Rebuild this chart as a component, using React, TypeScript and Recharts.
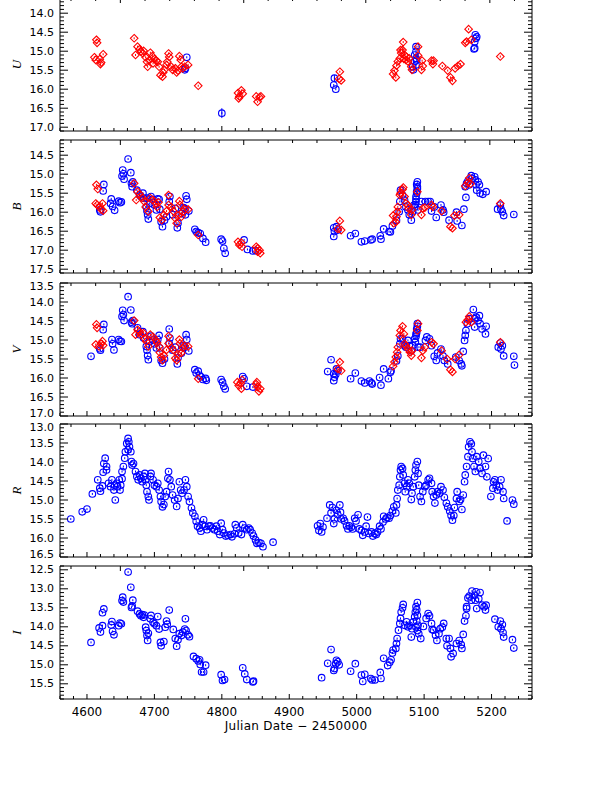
import React from 'react';
import { ScatterChart, Scatter, XAxis, YAxis, ErrorBar } from 'recharts';

// ─── Data (JD − 2450000, magnitude) ───────────────────────────────────────────

type Pt = [number, number];

const uRed: Pt[] = [
  [4614, 14.7], [4615, 14.78], [4611, 15.16], [4613, 15.23], [4619, 15.21], [4621, 15.3], [4620, 15.34], [4624, 15.08],
  [4670, 14.66], [4672, 15.1], [4675, 14.88], [4678, 14.95], [4680, 15.01], [4683, 15.06], [4684, 14.99], [4687, 15.16],
  [4689, 15.28], [4690, 15.41], [4693, 15.23], [4694, 15.04], [4697, 15.13], [4698, 15.32], [4700, 15.21], [4703, 15.25],
  [4705, 15.28], [4707, 15.41], [4709, 15.63], [4712, 15.67], [4713, 15.56], [4715, 15.49], [4718, 15.36], [4719, 15.28],
  [4721, 15.06], [4722, 15.15], [4725, 15.41], [4727, 15.49], [4731, 15.45], [4733, 15.56], [4735, 15.51], [4737, 15.13],
  [4739, 15.23], [4740, 15.41], [4742, 15.45], [4745, 15.41], [4750, 15.36], [4765, 15.91],
  [4824, 16.1], [4826, 16.19], [4829, 16.03], [4831, 16.12], [4825, 16.24], [4851, 16.19], [4853, 16.33], [4856, 16.21], [4858, 16.19],
  [4975, 15.54], [4974, 15.73], [4977, 15.77],
  [5054, 15.6], [5058, 15.69], [5056, 15.51], [5059, 15.38], [5061, 15.27], [5064, 15.19], [5065, 14.97], [5066, 15.05],
  [5068, 14.97], [5069, 14.76], [5070, 15.2], [5071, 15.1], [5073, 15.23], [5074, 15.15], [5076, 15.27], [5078, 15.19],
  [5081, 15.41], [5082, 15.49], [5091, 14.88], [5091, 15.11], [5097, 15.25], [5096, 15.49], [5098, 15.39], [5111, 15.25],
  [5113, 15.34], [5114, 15.25], [5127, 15.39], [5135, 15.51], [5139, 15.69], [5142, 15.78], [5146, 15.45], [5150, 15.39],
  [5154, 15.34], [5161, 14.78], [5163, 14.75], [5166, 14.42], [5170, 14.7], [5213, 15.14],
];

const uBlue: Pt[] = [
  [4748, 15.16], [4745, 15.49], [4746, 15.45], [4966, 15.89], [4969, 16.0],
  [5088, 14.88], [5088, 15.01], [5086, 15.1], [5088, 15.19], [5086, 15.27], [5088, 15.36], [5084, 15.49], [5083, 15.41],
  [5089, 15.23], [5176, 14.57], [5177, 14.66], [5178, 14.62], [5175, 14.75], [5174, 14.94], [5175, 14.92],
];

// points drawn with a visible error bar: [jd, mag, err]
const uBlueErr: [number, number, number][] = [
  [4800, 16.63, 0.13],
  [4967, 15.71, 0.08],
];

const bBlue: Pt[] = [
  [4625, 15.27], [4624, 15.44], [4619, 15.94], [4620, 15.99], [4636, 15.65], [4635, 15.77], [4638, 15.85], [4641, 15.95],
  [4647, 15.71], [4649, 15.75], [4651, 15.73], [4652, 15.05], [4653, 14.89], [4654, 14.99], [4655, 15.13], [4661, 14.6],
  [4665, 14.96], [4666, 15.24], [4667, 15.33], [4668, 15.2], [4674, 15.42], [4678, 15.55], [4680, 15.59], [4683, 15.5],
  [4684, 15.63], [4688, 15.86], [4689, 15.97], [4690, 16.07], [4691, 16.18], [4689, 15.63], [4693, 15.77], [4695, 15.59],
  [4697, 15.66], [4700, 15.81], [4703, 15.94], [4705, 15.65], [4708, 15.92], [4707, 15.66], [4710, 16.25], [4712, 16.38],
  [4715, 16.21], [4718, 16.12], [4722, 15.72], [4723, 15.59], [4727, 16.07], [4731, 15.9], [4734, 16.41], [4735, 16.29],
  [4740, 16.03], [4743, 15.88], [4745, 15.9], [4747, 15.57], [4748, 15.66], [4751, 15.97], [4746, 16.07],
  [4760, 16.45], [4762, 16.51], [4765, 16.54], [4768, 16.56], [4772, 16.69], [4776, 16.79],
  [4799, 16.71], [4801, 16.76], [4803, 16.95], [4805, 17.08], [4833, 16.73], [4838, 16.98], [4846, 17.02], [4850, 17.01],
  [4966, 16.41], [4967, 16.51], [4966, 16.64], [4970, 16.38], [4972, 16.47], [4991, 16.62], [4998, 16.56], [5007, 16.78],
  [5012, 16.76], [5021, 16.73], [5023, 16.71], [5035, 16.62], [5036, 16.71], [5040, 16.44], [5048, 16.51], [5050, 16.52],
  [5053, 16.36], [5059, 16.21], [5063, 15.99], [5064, 15.72], [5065, 15.42], [5068, 15.55], [5071, 15.68], [5073, 15.86],
  [5076, 15.94], [5078, 16.07], [5081, 16.21], [5083, 15.99], [5086, 15.86], [5088, 15.72], [5088, 15.59], [5089, 15.46],
  [5090, 15.33], [5090, 15.2], [5089, 15.27], [5090, 15.38], [5089, 15.5], [5088, 15.66], [5087, 15.8], [5091, 15.94],
  [5085, 15.81], [5096, 15.72], [5102, 15.72], [5106, 15.72], [5109, 15.72], [5111, 15.97], [5115, 15.86], [5118, 16.14],
  [5125, 15.81], [5128, 15.94], [5129, 16.0], [5137, 16.21], [5148, 16.0], [5149, 16.23], [5156, 16.35], [5159, 15.92],
  [5162, 15.61], [5161, 15.33], [5163, 15.24], [5165, 15.18], [5167, 15.28], [5170, 15.04], [5171, 15.11], [5175, 15.07],
  [5176, 15.15], [5177, 15.28], [5180, 15.2], [5178, 15.42], [5182, 15.28], [5183, 15.5], [5187, 15.53], [5192, 15.46],
  [5209, 15.92], [5213, 15.81], [5214, 15.92], [5216, 15.99], [5218, 16.09], [5233, 16.06],
];

const bRed: Pt[] = [
  [4614, 15.28], [4616, 15.39], [4613, 15.77], [4615, 15.81], [4619, 15.84], [4621, 15.93], [4623, 15.77], [4624, 15.96],
  [4670, 15.24], [4673, 15.68], [4675, 15.46], [4678, 15.52], [4682, 15.62], [4685, 15.72], [4687, 15.86], [4691, 15.98],
  [4694, 15.63], [4698, 15.68], [4702, 15.77], [4704, 15.86], [4706, 15.74], [4708, 16.14], [4711, 16.21], [4714, 16.07],
  [4718, 15.97], [4721, 15.81], [4721, 15.55], [4725, 15.86], [4728, 15.97], [4731, 16.16], [4733, 16.29], [4735, 16.09],
  [4737, 15.71], [4738, 15.81], [4740, 16.12], [4742, 15.99], [4745, 15.93], [4750, 15.93], [4765, 16.6],
  [4824, 16.78], [4826, 16.86], [4829, 16.8], [4830, 16.91], [4851, 16.91], [4853, 17.04], [4856, 17.0], [4857, 17.08], [4853, 16.95],
  [4975, 16.23], [4972, 16.44], [4977, 16.47],
  [5054, 16.09], [5055, 16.29], [5058, 16.26], [5059, 16.12], [5060, 15.99], [5061, 15.86], [5064, 15.55], [5065, 15.5],
  [5068, 15.4], [5069, 15.35], [5071, 15.59], [5073, 15.77], [5076, 15.81], [5077, 15.9], [5081, 16.07], [5082, 15.94],
  [5090, 15.46], [5096, 16.07], [5098, 15.9], [5101, 15.88], [5111, 15.81], [5113, 15.86], [5126, 15.97], [5139, 16.38],
  [5142, 16.42], [5145, 16.09], [5152, 16.07], [5161, 15.31], [5165, 15.22], [5167, 15.1], [5169, 15.25], [5213, 15.77],
];

const vBlue: Pt[] = [
  [4606, 15.43], [4624, 14.73], [4625, 14.59], [4619, 15.23], [4620, 15.27], [4637, 14.99], [4638, 15.1], [4640, 15.26],
  [4647, 14.99], [4649, 15.03], [4651, 15.04], [4661, 13.86], [4652, 14.38], [4653, 14.22], [4654, 14.33], [4655, 14.49],
  [4665, 14.21], [4666, 14.53], [4667, 14.57], [4668, 14.49], [4675, 14.68], [4678, 14.86], [4683, 14.78], [4684, 14.95],
  [4688, 15.17], [4689, 15.27], [4690, 15.41], [4691, 15.52], [4693, 15.04], [4695, 14.9], [4698, 15.0], [4700, 15.1],
  [4703, 15.21], [4705, 14.99], [4707, 14.88], [4708, 15.21], [4710, 15.54], [4712, 15.61], [4715, 15.5], [4722, 15.09],
  [4723, 14.95], [4722, 14.71], [4727, 15.27], [4731, 15.19], [4734, 15.63], [4735, 15.47], [4740, 15.35], [4743, 15.15],
  [4745, 15.19], [4747, 14.86], [4748, 14.99], [4751, 15.29], [4760, 15.78], [4762, 15.87], [4765, 15.82], [4767, 15.93],
  [4769, 15.97], [4772, 16.04], [4776, 16.01], [4777, 16.06], [4799, 16.04], [4801, 16.11], [4803, 16.22], [4805, 16.29],
  [4831, 15.96], [4833, 16.02], [4837, 16.22], [4846, 16.24],
  [4962, 15.52], [4957, 15.83], [4966, 15.89], [4967, 15.98], [4966, 16.07], [4970, 15.76], [4972, 15.81], [4969, 15.9],
  [4991, 16.02], [4998, 15.87], [5007, 16.08], [5012, 16.13], [5019, 16.08], [5022, 16.13], [5023, 16.16], [5034, 15.99],
  [5036, 16.19], [5040, 15.76], [5047, 16.02], [5050, 15.85], [5051, 15.81], [5059, 15.55], [5061, 15.42], [5064, 15.1],
  [5065, 14.97], [5068, 14.97], [5071, 15.15], [5073, 15.19], [5076, 15.01], [5078, 15.15], [5081, 15.28], [5083, 15.15],
  [5086, 14.97], [5088, 14.84], [5089, 14.71], [5090, 14.57], [5090, 14.64], [5089, 14.8], [5088, 14.9], [5087, 15.05],
  [5091, 15.19], [5094, 15.19], [5102, 15.01], [5104, 14.92], [5108, 14.97], [5111, 15.15], [5115, 15.43], [5118, 15.54],
  [5120, 15.34], [5125, 15.24], [5128, 15.42], [5130, 15.54], [5135, 15.63], [5147, 15.45], [5152, 15.54], [5155, 15.63],
  [5156, 15.68], [5158, 15.3], [5160, 15.01], [5161, 14.88], [5162, 14.75], [5164, 14.57], [5167, 14.44], [5173, 14.2],
  [5175, 14.44], [5177, 14.4], [5180, 14.49], [5182, 14.36], [5175, 14.66], [5183, 14.57], [5186, 14.71], [5192, 14.64],
  [5191, 14.84], [5210, 15.19], [5213, 15.08], [5214, 15.24], [5216, 15.15], [5218, 15.42], [5233, 15.43], [5234, 15.66],
];

const vRed: Pt[] = [
  [4614, 14.59], [4615, 14.68], [4613, 15.12], [4618, 15.17], [4621, 15.1], [4623, 15.03], [4624, 15.14],
  [4670, 14.49], [4672, 14.86], [4675, 14.73], [4678, 14.78], [4680, 14.86], [4684, 14.82], [4686, 14.97], [4688, 15.04],
  [4691, 15.17], [4694, 14.86], [4698, 14.92], [4702, 15.0], [4704, 15.07], [4707, 15.17], [4708, 15.33], [4710, 15.45],
  [4712, 15.53], [4714, 15.41], [4718, 15.26], [4721, 15.09], [4721, 14.9], [4725, 15.2], [4728, 15.26], [4731, 15.48],
  [4733, 15.53], [4735, 15.38], [4737, 14.99], [4738, 15.09], [4740, 15.34], [4742, 15.21], [4745, 15.15], [4750, 15.17],
  [4765, 16.02], [4823, 16.11], [4825, 16.2], [4828, 16.14], [4829, 16.28], [4830, 16.05], [4851, 16.16], [4853, 16.24],
  [4855, 16.35], [4857, 16.28], [4852, 16.11],
  [4975, 15.58], [4972, 15.76], [4977, 15.81],
  [5054, 15.69], [5056, 15.58], [5058, 15.45], [5060, 15.32], [5061, 15.19], [5064, 14.88], [5065, 14.75], [5068, 14.64],
  [5070, 14.84], [5071, 15.1], [5073, 15.15], [5076, 15.24], [5079, 15.32], [5081, 15.41], [5082, 15.28], [5090, 14.75],
  [5091, 14.57], [5096, 15.47], [5098, 15.28], [5101, 15.19], [5111, 15.06], [5114, 15.1], [5126, 15.28], [5134, 15.5],
  [5139, 15.78], [5142, 15.84], [5146, 15.5], [5152, 15.39], [5162, 14.53], [5165, 14.47], [5167, 14.38], [5170, 14.53],
  [5213, 15.06],
];

const rBlue: Pt[] = [
  [4576, 15.5], [4593, 15.31], [4600, 15.24], [4608, 14.84], [4616, 14.47], [4619, 14.69], [4620, 14.77], [4623, 14.63],
  [4624, 14.27], [4625, 14.04], [4627, 13.9], [4629, 14.12], [4629, 14.21], [4632, 14.56], [4635, 14.65], [4637, 14.47],
  [4640, 14.74], [4642, 15.0], [4641, 14.61], [4644, 14.56], [4645, 14.65], [4648, 14.47], [4650, 14.61], [4652, 14.44],
  [4649, 14.74], [4652, 14.25], [4654, 14.12], [4656, 13.9], [4657, 13.73], [4659, 13.51], [4661, 13.38], [4662, 13.47],
  [4663, 13.6], [4665, 13.73], [4661, 13.68], [4666, 13.99], [4667, 14.08], [4669, 14.04], [4672, 14.25], [4674, 14.38],
  [4676, 14.47], [4678, 14.34], [4680, 14.43], [4682, 14.52], [4684, 14.38], [4686, 14.3], [4687, 14.47], [4688, 14.61],
  [4689, 14.78], [4691, 14.91], [4692, 15.0], [4694, 14.38], [4695, 14.3], [4698, 14.47], [4700, 14.61], [4703, 14.65],
  [4705, 14.56], [4707, 14.74], [4709, 14.91], [4710, 15.04], [4712, 15.18], [4714, 15.12], [4716, 14.91], [4718, 14.78],
  [4720, 14.43], [4721, 14.25], [4723, 14.47], [4725, 14.65], [4727, 14.87], [4730, 15.0], [4733, 15.17], [4735, 14.96],
  [4737, 14.52], [4739, 14.74], [4741, 14.82], [4744, 14.74], [4746, 14.47], [4748, 14.65], [4750, 14.91], [4752, 15.04],
  [4755, 15.21], [4757, 15.34], [4760, 15.43], [4762, 15.56], [4764, 15.69], [4767, 15.74], [4769, 15.82], [4771, 15.65],
  [4773, 15.52], [4775, 15.69], [4778, 15.78], [4781, 15.69], [4783, 15.68], [4786, 15.74], [4789, 15.78], [4792, 15.69],
  [4794, 15.82], [4797, 15.91], [4799, 15.61], [4801, 15.78], [4803, 15.87], [4806, 15.95], [4809, 15.93], [4813, 15.91],
  [4815, 15.97], [4819, 15.89], [4820, 15.65], [4822, 15.74], [4825, 15.87], [4829, 15.91], [4831, 15.65], [4834, 15.74],
  [4837, 15.78], [4840, 15.74], [4842, 15.78], [4845, 15.87], [4847, 15.95], [4850, 16.05], [4852, 16.14], [4855, 16.12],
  [4858, 16.14], [4861, 16.23], [4876, 16.11],
  [4942, 15.68], [4944, 15.8], [4946, 15.62], [4948, 15.84], [4950, 15.71], [4956, 15.48], [4960, 15.13], [4962, 15.34],
  [4964, 15.2], [4966, 15.62], [4967, 15.5], [4970, 15.27], [4972, 15.39], [4975, 15.13], [4976, 15.32], [4977, 15.5],
  [4980, 15.48], [4982, 15.55], [4985, 15.68], [4987, 15.76], [4989, 15.68], [4992, 15.72], [4994, 15.76], [4997, 15.48],
  [4999, 15.55], [5002, 15.39], [5004, 15.76], [5007, 15.8], [5009, 15.93], [5012, 15.84], [5014, 15.69], [5016, 15.45],
  [5018, 15.88], [5022, 15.84], [5024, 15.95], [5027, 15.88], [5029, 15.91], [5031, 15.84], [5034, 15.69], [5036, 15.76],
  [5039, 15.58], [5040, 15.43], [5043, 15.5], [5045, 15.46], [5048, 15.48], [5050, 15.41], [5053, 15.29], [5055, 15.18],
  [5058, 15.34], [5059, 15.13], [5060, 14.96], [5061, 14.74], [5063, 14.61], [5064, 14.39], [5065, 14.21], [5066, 14.12],
  [5068, 14.17], [5069, 14.34], [5071, 14.56], [5072, 14.78], [5074, 14.65], [5076, 14.47], [5078, 14.56], [5081, 14.99],
  [5082, 14.82], [5084, 14.65], [5086, 14.39], [5087, 14.21], [5088, 14.08], [5090, 13.99], [5091, 14.3], [5092, 14.61],
  [5094, 14.91], [5096, 15.04], [5098, 14.78], [5101, 14.65], [5103, 14.61], [5106, 14.47], [5108, 14.43], [5111, 14.56],
  [5112, 14.78], [5114, 14.91], [5116, 15.08], [5118, 14.87], [5120, 14.78], [5123, 14.82], [5125, 14.65], [5128, 14.74],
  [5130, 14.93], [5133, 15.08], [5135, 15.18], [5138, 15.29], [5140, 15.41], [5142, 15.53], [5144, 15.41], [5145, 15.2],
  [5148, 14.96], [5149, 14.78], [5152, 15.04], [5154, 14.99], [5156, 15.25], [5158, 14.87], [5160, 14.52], [5161, 14.34],
  [5163, 14.12], [5165, 13.86], [5166, 13.6], [5168, 13.47], [5170, 13.52], [5171, 13.73], [5172, 13.91], [5174, 14.12],
  [5176, 14.25], [5178, 13.86], [5181, 13.99], [5183, 14.17], [5186, 14.3], [5188, 13.82], [5191, 14.12], [5193, 14.39],
  [5195, 13.91], [5199, 14.91], [5202, 14.69], [5203, 14.52], [5205, 14.47], [5207, 14.61], [5209, 14.74], [5212, 14.65],
  [5214, 14.47], [5217, 14.78], [5218, 14.96], [5223, 15.55], [5231, 15.0], [5233, 15.11],
];

const iBlue: Pt[] = [
  [4606, 14.41], [4618, 14.03], [4620, 14.14], [4623, 13.63], [4625, 13.53], [4623, 13.97], [4636, 13.95], [4637, 13.86],
  [4638, 14.12], [4640, 14.21], [4647, 13.97], [4649, 13.9], [4651, 13.92], [4652, 13.31], [4653, 13.22], [4654, 13.35],
  [4661, 12.56], [4665, 12.96], [4666, 13.49], [4667, 13.45], [4668, 13.3], [4675, 13.59], [4678, 13.66], [4680, 13.71],
  [4682, 13.68], [4684, 13.75], [4685, 13.69], [4687, 14.01], [4688, 14.1], [4689, 14.23], [4690, 14.36], [4691, 14.17],
  [4694, 13.79], [4695, 13.7], [4698, 13.88], [4700, 13.92], [4703, 13.97], [4705, 13.73], [4707, 14.06], [4709, 14.41],
  [4710, 14.5], [4714, 14.39], [4716, 14.01], [4718, 13.85], [4719, 13.93], [4722, 13.56], [4728, 14.07], [4731, 14.31],
  [4733, 14.51], [4735, 14.34], [4737, 14.18], [4740, 14.23], [4742, 14.14], [4745, 14.06], [4746, 13.79], [4747, 14.1],
  [4750, 14.21], [4752, 14.26], [4758, 14.78], [4762, 14.84], [4765, 14.9], [4767, 14.87], [4768, 14.99], [4770, 15.19],
  [4773, 15.19], [4776, 15.01], [4799, 15.26], [4801, 15.41], [4804, 15.39], [4831, 15.08], [4834, 15.24], [4837, 15.39],
  [4846, 15.45], [4847, 15.43],
  [4948, 15.34], [4957, 14.96], [4962, 14.6], [4966, 15.15], [4967, 15.1], [4969, 14.97], [4970, 14.88], [4972, 14.92],
  [4974, 15.0], [4991, 15.17], [4998, 14.97], [5007, 15.27], [5009, 15.44], [5012, 15.25], [5021, 15.36], [5023, 15.4],
  [5027, 15.4], [5035, 15.2], [5036, 15.36], [5040, 14.83], [5046, 15.02], [5049, 14.93], [5051, 14.87], [5053, 14.69],
  [5054, 14.61], [5058, 14.57], [5059, 14.44], [5060, 14.31], [5062, 14.09], [5064, 13.91], [5065, 13.78], [5066, 13.61],
  [5068, 13.5], [5069, 13.41], [5071, 13.96], [5074, 13.87], [5076, 14.0], [5078, 13.96], [5081, 14.27], [5082, 14.05],
  [5084, 13.87], [5086, 13.74], [5087, 13.61], [5088, 13.47], [5090, 13.36], [5091, 13.96], [5092, 14.18], [5095, 14.31],
  [5089, 13.55], [5090, 13.7], [5089, 13.85], [5088, 14.0], [5090, 14.1],
  [5099, 13.99], [5103, 13.78], [5106, 13.65], [5108, 13.71], [5111, 13.91], [5112, 14.07], [5114, 14.09], [5117, 14.22],
  [5119, 14.36], [5122, 14.18], [5124, 14.05], [5127, 14.01], [5129, 13.91], [5133, 14.31], [5134, 14.5], [5137, 14.31],
  [5139, 14.57], [5140, 14.79], [5143, 14.7], [5148, 14.44], [5152, 14.36], [5155, 14.47], [5156, 14.57], [5158, 14.2],
  [5160, 13.85], [5162, 13.71], [5163, 13.47], [5163, 13.52], [5165, 13.24], [5167, 13.19], [5170, 13.3], [5171, 13.06],
  [5175, 13.17], [5176, 13.3], [5177, 13.08], [5178, 13.52], [5181, 13.26], [5183, 13.1], [5186, 13.43], [5189, 13.47],
  [5192, 13.43], [5191, 13.56], [5205, 13.8], [5210, 14.0], [5213, 13.85], [5214, 14.05], [5216, 13.94], [5217, 14.15],
  [5218, 14.27], [5231, 14.34], [5233, 14.56],
];

// ─── Axes ─────────────────────────────────────────────────────────────────────

const xDomain: [number, number] = [4560, 5260];
const xLabels = [4600, 4700, 4800, 4900, 5000, 5100, 5200];
// calendar half-years along the top edge (2008 Jul, 2009 Jan, 2009 Jul, 2010 Jan)
const topMajor = [4649.5, 4832.5, 5013.5, 5197.5];

const bottomTicks: number[] = [];
for (let v = xDomain[0]; v <= xDomain[1]; v += 20) bottomTicks.push(v);

const topTicks: number[] = [];
{
  const step0 = (topMajor[1] - topMajor[0]) / 5;
  for (let v = topMajor[0] - step0; v > xDomain[0]; v -= step0) topTicks.push(v);
  for (let i = 0; i < topMajor.length; i++) {
    const next = topMajor[i + 1] ?? topMajor[i] + 182.5;
    const s = (next - topMajor[i]) / 5;
    for (let k = 0; k < 5; k++) {
      const v = topMajor[i] + k * s;
      if (v < xDomain[1]) topTicks.push(v);
    }
  }
}

function magTicks(lo: number, hi: number) {
  const out: number[] = [];
  for (let k = Math.ceil(lo * 10 - 1e-6); k <= Math.floor(hi * 10 + 1e-6); k++) out.push(k / 10);
  return out;
}
const isHalf = (v: number) => Math.abs(v * 2 - Math.round(v * 2)) < 1e-6;

const FONT = '"DejaVu Sans", Arial, sans-serif';

// ─── Tick renderers (IDL style: ticks point inward) ──────────────────────────

function makeLeftTick(domain: [number, number]) {
  return function LeftTick({ x, y, payload }: any) {
    const v = payload.value as number;
    const major = isHalf(v);
    // labels sitting on the frame corners are nudged inward, as in the original
    let ly = y;
    if (Math.abs(v - domain[0]) < 1e-6) ly += 3;
    if (Math.abs(v - domain[1]) < 1e-6) ly -= 3;
    return (
      <g>
        <line x1={x} x2={x + (major ? 8 : 4)} y1={y} y2={y} stroke="#000" />
        {major && (
          <text x={x - 6} y={ly} textAnchor="end" dominantBaseline="central" fontSize={11} fontFamily={FONT} fill="#000">
            {v.toFixed(1)}
          </text>
        )}
      </g>
    );
  };
}

function RightTick({ x, y, payload }: any) {
  const major = isHalf(payload.value);
  return <line x1={x} x2={x - (major ? 8 : 4)} y1={y} y2={y} stroke="#000" />;
}

function makeBottomTick(showLabels: boolean) {
  return function BottomTick({ x, y, payload }: any) {
    const v = payload.value as number;
    const major = xLabels.includes(v);
    return (
      <g>
        <line x1={x} x2={x} y1={y} y2={y - (major ? 5 : 3)} stroke="#000" />
        {showLabels && major && (
          <text x={x} y={y + 13} textAnchor="middle" dominantBaseline="central" fontSize={12} fontFamily={FONT} fill="#000">
            {v}
          </text>
        )}
      </g>
    );
  };
}

function TopTick({ x, y, payload }: any) {
  const major = topMajor.includes(payload.value);
  return <line x1={x} x2={x} y1={y} y2={y + (major ? 5 : 3)} stroke="#000" />;
}

function BandLabel({ viewBox, band }: any) {
  const cy = viewBox.y + viewBox.height / 2;
  return (
    <text
      x={16.5}
      y={cy}
      transform={`rotate(-90, 16.5, ${cy})`}
      textAnchor="middle"
      dominantBaseline="central"
      fontSize={13}
      fontStyle="italic"
      fontFamily='"Liberation Serif", "DejaVu Serif", serif'
      fill="#000"
    >
      {band}
    </text>
  );
}

// ─── Markers ──────────────────────────────────────────────────────────────────

function BlueCircle({ cx, cy }: any) {
  if (cx == null || cy == null) return null;
  return (
    <g>
      <circle cx={cx} cy={cy} r={3.3} fill="none" stroke="#0000ff" strokeWidth={1.1} />
      <line x1={cx} x2={cx} y1={cy - 1} y2={cy + 1} stroke="#0000ff" />
    </g>
  );
}

function RedDiamond({ cx, cy }: any) {
  if (cx == null || cy == null) return null;
  const d = 3.8;
  return (
    <g>
      <polygon
        points={`${cx},${cy - d} ${cx + d},${cy} ${cx},${cy + d} ${cx - d},${cy}`}
        fill="none"
        stroke="#ff0000"
        strokeWidth={1.1}
      />
      <line x1={cx} x2={cx} y1={cy - 1} y2={cy + 1} stroke="#ff0000" />
    </g>
  );
}

const toXY = (pts: Pt[]) => pts.map(([x, y]) => ({ x, y }));

// ─── Panel ────────────────────────────────────────────────────────────────────

const PLOT_LEFT = 60;
const PLOT_RIGHT = 532;
const PLOT_H = 133;
const W = 591;

interface PanelProps {
  band: string;
  top: number;
  domain: [number, number];
  blue?: Pt[];
  red?: Pt[];
  blueErr?: [number, number, number][];
  last?: boolean;
}

function Panel({ band, top, domain, blue = [], red = [], blueErr = [], last = false }: PanelProps) {
  // 1px axis boxes on top/bottom/right; margins make the plot area land on the frame
  const mt = 8;
  const mb = last ? 30 : 8;
  const ticks = magTicks(domain[0], domain[1]);
  return (
    <div style={{ position: 'absolute', left: 0, top: top - mt - 1 }}>
      <ScatterChart
        width={W}
        height={PLOT_H + mt + mb + 2}
        margin={{ top: mt, bottom: mb, left: 0, right: W - PLOT_RIGHT - 1 }}
      >
        <XAxis
          xAxisId="b"
          type="number"
          dataKey="x"
          domain={xDomain}
          allowDataOverflow
          ticks={bottomTicks}
          interval={0}
          height={1}
          tickSize={0}
          tickMargin={0}
          tickLine={false}
          tick={makeBottomTick(last)}
          axisLine={{ stroke: '#000' }}
        />
        <XAxis
          xAxisId="t"
          orientation="top"
          type="number"
          dataKey="x"
          domain={xDomain}
          allowDataOverflow
          ticks={topTicks}
          interval={0}
          height={1}
          tickSize={0}
          tickMargin={0}
          tickLine={false}
          tick={TopTick}
          axisLine={{ stroke: '#000' }}
        />
        <YAxis
          yAxisId="l"
          type="number"
          dataKey="y"
          reversed
          domain={domain}
          allowDataOverflow
          ticks={ticks}
          interval={0}
          width={PLOT_LEFT}
          tickSize={0}
          tickMargin={0}
          tickLine={false}
          tick={makeLeftTick(domain)}
          axisLine={{ stroke: '#000' }}
          label={<BandLabel band={band} />}
        />
        <YAxis
          yAxisId="r"
          orientation="right"
          type="number"
          dataKey="y"
          reversed
          domain={domain}
          allowDataOverflow
          ticks={ticks}
          interval={0}
          width={1}
          tickSize={0}
          tickMargin={0}
          tickLine={false}
          tick={RightTick}
          axisLine={{ stroke: '#000' }}
        />
        {blue.length > 0 && (
          <Scatter xAxisId="b" yAxisId="l" data={toXY(blue)} shape={BlueCircle} isAnimationActive={false} />
        )}
        {blueErr.length > 0 && (
          <Scatter
            xAxisId="b"
            yAxisId="l"
            data={blueErr.map(([x, y, e]) => ({ x, y, e }))}
            shape={BlueCircle}
            isAnimationActive={false}
          >
            <ErrorBar dataKey="e" direction="y" width={0} stroke="#0000ff" strokeWidth={1} isAnimationActive={false} />
          </Scatter>
        )}
        {red.length > 0 && (
          <Scatter xAxisId="b" yAxisId="l" data={toXY(red)} shape={RedDiamond} isAnimationActive={false} />
        )}
        {/* invisible series so the top and right axes get registered */}
        <Scatter xAxisId="t" yAxisId="r" data={[]} isAnimationActive={false} />
      </ScatterChart>
    </div>
  );
}

export default function App() {
  return (
    <div style={{ position: 'absolute', left: 0, top: 0, width: W, height: 786, background: '#fff', overflow: 'hidden' }}>
      <Panel band="U" top={-2} domain={[13.6, 17.1]} blue={uBlue} red={uRed} blueErr={uBlueErr} />
      <Panel band="B" top={140} domain={[14.1, 17.6]} blue={bBlue} red={bRed} />
      <Panel band="V" top={282.5} domain={[13.5, 17.0]} blue={vBlue} red={vRed} />
      <Panel band="R" top={424} domain={[13.0, 16.5]} blue={rBlue} />
      <Panel band="I" top={565.5} domain={[12.4, 15.9]} blue={iBlue} last />
      <div
        style={{
          position: 'absolute',
          left: PLOT_LEFT,
          width: PLOT_RIGHT - PLOT_LEFT,
          top: 719,
          textAlign: 'center',
          fontFamily: FONT,
          fontSize: 12,
          letterSpacing: 0.3,
          lineHeight: '14px',
          color: '#000',
        }}
      >
        Julian Date − 2450000
      </div>
    </div>
  );
}
